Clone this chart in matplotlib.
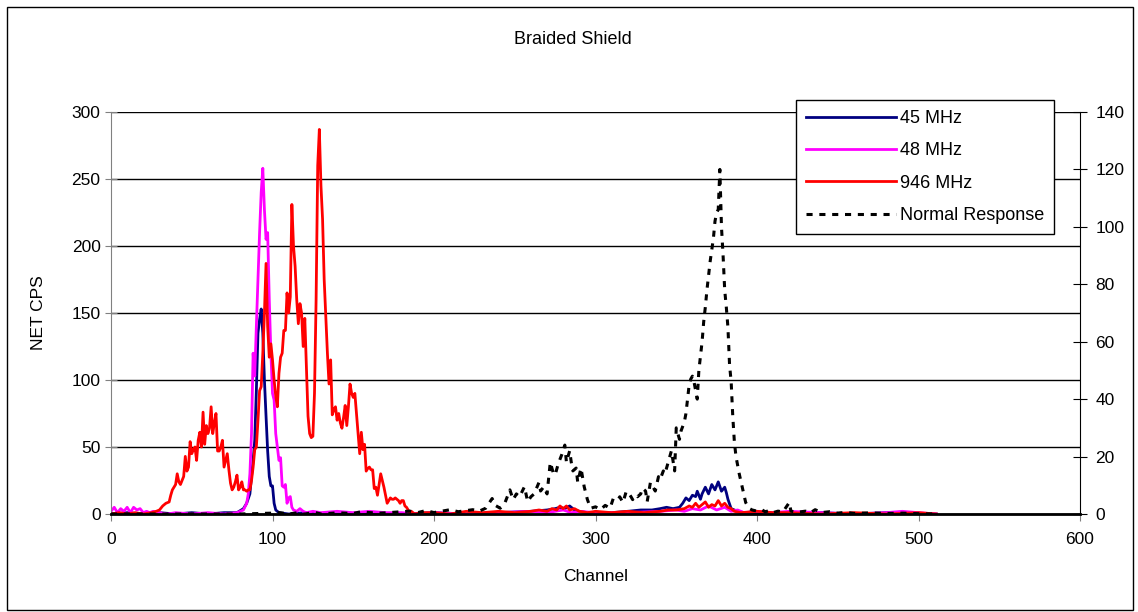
import matplotlib
matplotlib.use("Agg")
import matplotlib.pyplot as plt
from matplotlib.patches import Rectangle

plt.rcParams['font.family'] = ['Liberation Sans', 'DejaVu Sans']

# 45 MHz (left axis, NET CPS)
ch_45 = [0, 10, 20, 30, 40, 50, 60, 70, 78, 82, 84, 86, 87, 88, 89, 90, 91, 92, 93, 94,
         95, 96, 97, 98, 99, 100, 101, 102, 104, 110, 120, 140, 160, 180, 200, 220, 240,
         260, 270, 275, 278, 281, 284, 287, 290, 295, 300, 310, 320, 328, 335, 340, 344,
         348, 352, 354, 356, 358, 360, 362, 363, 365, 366, 368, 370, 372, 374, 376, 378,
         380, 381, 382, 384, 386, 388, 392, 400, 420, 440, 460, 480, 511]
cps_45 = [0, 1, 0, 1, 0, 1, 0, 1, 1, 4, 8, 15, 28, 40, 55, 92, 135, 145, 153, 135,
          100, 73, 47, 28, 21, 21, 8, 3, 1, 0, 1, 0, 1, 0, 1, 0, 1,
          2, 3, 4, 5, 4, 6, 3, 2, 1, 1, 1, 2, 3, 3, 4, 5,
          4, 5, 8, 12, 10, 14, 13, 17, 11, 15, 20, 15, 22, 18, 24, 17,
          20, 16, 11, 4, 3, 2, 1, 1, 0, 1, 0, 1, 0]

# 48 MHz (left axis)
ch_48 = [0, 2, 4, 6, 8, 10, 12, 14, 16, 18, 20, 22, 24, 26, 30, 35, 40, 50, 60, 70,
         78, 82, 84, 85, 86, 87, 88, 89, 90, 91, 92, 93, 94, 95, 96, 97, 98, 99, 100,
         101, 102, 103, 104, 105, 106, 107, 108, 109, 110, 111, 112, 113, 115, 117, 119,
         121, 125, 130, 140, 150, 160, 170, 180, 190, 200, 220, 240, 260, 270, 280, 285,
         290, 300, 320, 340, 350, 355, 360, 365, 370, 375, 380, 384, 388, 392, 400, 410,
         420, 440, 460, 480, 490, 500, 511]
cps_48 = [2, 5, 1, 4, 2, 5, 1, 5, 3, 4, 1, 2, 1, 2, 1, 0, 1, 0, 1, 0,
          1, 3, 8, 15, 30, 60, 120, 103, 140, 175, 210, 240, 258, 227, 205, 210, 160, 120, 90,
          85, 60, 50, 40, 42, 21, 20, 22, 8, 12, 13, 5, 3, 2, 4, 2,
          1, 2, 1, 2, 1, 2, 1, 1, 0, 1, 0, 1, 2, 1, 3, 1,
          2, 1, 1, 2, 3, 2, 4, 3, 6, 3, 5, 2, 3, 1, 2, 1,
          2, 1, 0, 1, 2, 1, 0]

# 946 MHz (left axis)
ch_946 = [0, 5, 10, 15, 20, 25, 28, 30, 32, 34, 36, 37, 38, 40, 41, 42, 43, 44, 45, 46,
          47, 48, 49, 50, 51, 52, 53, 54, 55, 56, 57, 58, 59, 60, 61, 62, 63, 64, 65, 66,
          67, 68, 69, 70, 71, 72, 73, 74, 75, 76, 77, 78, 79, 80, 81, 82, 83, 84, 85, 86,
          87, 88, 89, 90, 91, 92, 93, 94, 95, 96, 97, 98, 99, 100, 101, 102, 103, 104, 105,
          106, 107, 108, 109, 110, 111, 112, 113, 114, 115, 116, 117, 118, 119, 120, 121,
          122, 123, 124, 125, 126, 127, 128, 129, 130, 131, 132, 133, 134, 135, 136, 137,
          138, 139, 140, 141, 142, 143, 144, 145, 146, 147, 148, 149, 150, 151, 152, 153,
          154, 155, 156, 157, 158, 159, 160, 161, 162, 163, 164, 165, 166, 167, 168, 169,
          170, 171, 172, 173, 174, 175, 176, 177, 178, 179, 180, 181, 182, 183, 184, 185,
          186, 188, 192, 200, 210, 220, 230, 240, 250, 260, 265, 270, 273, 276, 278, 280,
          282, 284, 287, 290, 295, 300, 310, 320, 330, 340, 345, 350, 355, 358, 360, 362,
          364, 366, 368, 370, 372, 374, 376, 378, 380, 382, 384, 386, 390, 400, 410, 420,
          440, 460, 480, 500, 511]
cps_946 = [0, 1, 0, 1, 0, 1, 2, 3, 6, 8, 9, 14, 18, 22, 30, 24, 22, 25, 28, 43,
           32, 35, 54, 45, 48, 50, 40, 55, 61, 50, 76, 52, 66, 60, 64, 80, 60, 68, 75, 47,
           47, 50, 55, 35, 40, 45, 33, 23, 18, 20, 24, 29, 18, 20, 24, 18, 18, 17, 18, 18,
           25, 35, 48, 50, 70, 92, 95, 120, 150, 187, 140, 117, 127, 115, 100, 88, 80, 105, 117,
           120, 137, 137, 165, 150, 162, 231, 200, 185, 160, 142, 157, 150, 125, 146, 110,
           73, 60, 57, 58, 90, 160, 260, 287, 245, 220, 175, 147, 120, 97, 115, 74,
           78, 80, 70, 75, 68, 64, 72, 81, 66, 80, 97, 90, 87, 90, 75, 60,
           45, 61, 48, 52, 32, 34, 35, 33, 33, 19, 20, 14, 22, 30, 25, 20,
           14, 8, 10, 12, 11, 11, 12, 11, 10, 8, 10, 10, 6, 5, 3, 1,
           2, 0, 1, 1, 0, 2, 1, 2, 1, 2, 3, 2, 4, 3, 6, 4,
           6, 3, 4, 2, 1, 2, 1, 2, 1, 2, 3, 3, 4, 6, 5, 8,
           5, 7, 9, 5, 7, 6, 10, 6, 8, 5, 4, 2, 1, 2, 1, 1,
           0, 1, 0, 1, 0]

# Normal Response (right axis)
ch_norm = [0, 20, 40, 60, 80, 100, 104, 110, 115, 120, 126, 130, 140, 150, 155, 160, 166,
           170, 178, 185, 190, 195, 200, 205, 210, 215, 220, 224, 228, 232, 236, 238, 241,
           244, 247, 249, 251, 253, 256, 258, 260, 262, 265, 266, 268, 270, 272, 274, 275,
           277, 279, 281, 282, 284, 285, 286, 288, 289, 291, 293, 295, 297, 300, 303, 306,
           309, 311, 312, 314, 315, 317, 319, 320, 322, 323, 325, 326, 328, 329, 331, 332,
           334, 335, 337, 339, 340, 342, 343, 345, 347, 349, 350, 352, 353, 355, 356, 358,
           359, 360, 361, 363, 364, 365, 366, 367, 368, 369, 370, 371, 372, 373, 374, 375,
           376, 377, 378, 379, 380, 381, 382, 383, 384, 385, 386, 387, 389, 391, 393, 395,
           397, 400, 403, 405, 408, 410, 413, 416, 420, 421, 425, 430, 433, 436, 440, 445,
           450, 455, 460, 470, 480, 490, 500, 511]
resp_norm = [0, 0, 0, 0, 0, 0.3, 0.5, 0, 0.4, 0, 0.6, 0, 0.4, 0.2, 0.8, 0.5, 0.3,
             0.4, 0.7, 1, 0.5, 1.2, 0.5, 1, 1.5, 0.8, 1.2, 1.5, 1, 2, 5.4, 3, 2,
             4, 8.4, 5, 7, 6, 9.5, 4.3, 6, 7, 11, 8, 9.5, 7, 18, 14, 13.6,
             17.6, 20.5, 24, 18, 22, 18, 15, 16, 11, 16, 9.5, 5, 2, 2.5, 1.5, 3,
             2, 5.4, 5.4, 5, 6, 4, 7.8, 7.7, 6, 5, 6.6, 6, 7, 9, 8, 4.3,
             11, 10, 8, 13, 12, 15, 14, 18, 22, 15, 30, 26, 29, 32, 35, 45,
             47, 48, 46, 40, 50, 55, 60, 67, 72, 78, 83, 88, 92, 96, 102, 105,
             106, 120, 100, 90, 78, 72, 65, 52, 46, 34, 25, 20, 14, 9, 4, 2,
             1.4, 1, 1.5, 0.8, 1.2, 0.5, 1, 0.7, 4, 1, 0.6, 1, 0.4, 1.5, 0.5, 0.8,
             0.3, 0.6, 0.2, 0.4, 0.2, 0.3, 0.1, 0]

fig = plt.figure(figsize=(11.38, 6.12), dpi=100)
fig.patches.append(Rectangle((7 / 1138, 2 / 612), 1126 / 1138, 603 / 612,
                             transform=fig.transFigure, fill=False,
                             edgecolor='black', linewidth=1))
ax = fig.add_axes([111 / 1138, 1 - 514 / 612, (1080 - 111) / 1138, (514 - 112) / 612])

ax.plot(ch_45, cps_45, color='#000080', lw=2, label='45 MHz')
ax.plot(ch_48, cps_48, color='#FF00FF', lw=2, label='48 MHz')
ax.plot(ch_946, cps_946, color='#FF0000', lw=2, label='946 MHz')

ax.set_xlim(0, 600)
ax.set_ylim(0, 300)
ax.set_xticks(range(0, 601, 100))
ax.set_yticks(range(0, 301, 50))
ax.yaxis.grid(True, color='black', lw=1)
ax.set_axisbelow(True)
for s in ['top', 'right']:
    ax.spines[s].set_visible(False)
ax.spines['left'].set_color('#808080')
ax.spines['bottom'].set_linewidth(2)
ax.tick_params(axis='y', direction='inout', length=8, labelsize=12.5, color='#808080')
ax.tick_params(axis='x', direction='out', length=5, labelsize=12.5, pad=8, color='#808080')
ax.set_xlabel('Channel', fontsize=12.5, labelpad=16)
ax.set_ylabel('NET CPS', fontsize=12.5, labelpad=18)
fig.text(573 / 1138, 1 - 40 / 612, 'Braided Shield', fontsize=13, ha='center', va='center')

ax2 = ax.twinx()
ax2.plot(ch_norm, resp_norm, color='black', lw=2.2, linestyle=(0, (2, 2.2)),
         label='Normal Response')
ax2.set_ylim(0, 140)
ax2.set_yticks(range(0, 141, 20))
for s in ['top', 'left', 'bottom']:
    ax2.spines[s].set_visible(False)
ax2.spines['right'].set_color('black')
ax2.tick_params(axis='y', direction='inout', length=10, labelsize=12.5, pad=6)

h1, l1 = ax.get_legend_handles_labels()
h2, l2 = ax2.get_legend_handles_labels()
leg = ax2.legend(h1 + h2, l1 + l2, loc='upper left',
                 bbox_to_anchor=(796 / 1138, 1 - 100 / 612), bbox_transform=fig.transFigure,
                 fontsize=13, frameon=True, fancybox=False, edgecolor='black',
                 framealpha=1, handlelength=5.0, handletextpad=0.2, labelspacing=0.85,
                 borderpad=0.55, borderaxespad=0)
leg.get_frame().set_linewidth(1)

fig.savefig('out.png', dpi=100)
